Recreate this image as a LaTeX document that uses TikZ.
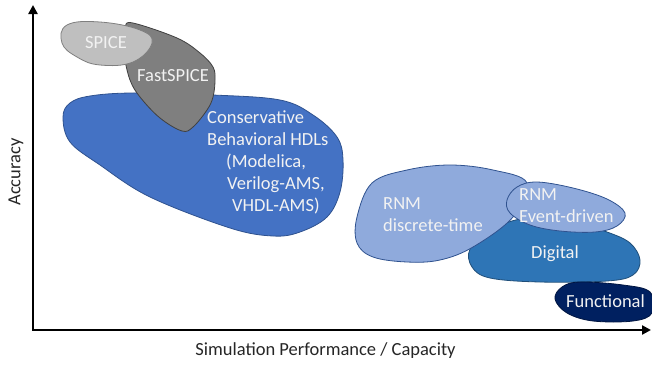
\documentclass[tikz,border=0pt]{standalone}
\usepackage{fontspec}
\setmainfont{Carlito}
\usetikzlibrary{arrows.meta}
\definecolor{spicefill}{HTML}{BFBFBF}
\definecolor{spiceline}{HTML}{7F7F7F}
\definecolor{fastfill}{HTML}{7F7F7F}
\definecolor{fastline}{HTML}{404040}
\definecolor{hdlfill}{HTML}{4472C4}
\definecolor{hdlline}{HTML}{2F528F}
\definecolor{rnmfill}{HTML}{8FAADC}
\definecolor{rnmline}{HTML}{2F528F}
\definecolor{digfill}{HTML}{2E75B6}
\definecolor{digline}{HTML}{1F4E79}
\definecolor{funcfill}{HTML}{002060}
\definecolor{funcline}{HTML}{001540}
\tikzset{
  blob/.style={line width=0.8pt},
  lbl/.style={text=white!95!black, font=\fontsize{18.5}{22}\selectfont, inner sep=0pt},
  axlbl/.style={text=black!85, font=\fontsize{18.5}{22}\selectfont, inner sep=0pt},
  axis/.style={line width=2.6pt, {Triangle[length=9pt,width=9pt]}-{Triangle[length=9pt,width=9pt]}}
}
\begin{document}
\begin{tikzpicture}[x=1pt,y=-1pt]
\useasboundingbox (0,0) rectangle (652,364);

% Conservative behavioral HDLs
\filldraw[blob, fill=hdlfill, draw=hdlline] plot[smooth cycle, tension=0.6] coordinates {
  (63,117) (70,103) (90,96) (133,93) (213,95) (280,100) (313,115) (337,137)
  (343,160) (340,192) (327,217) (300,232) (273,236) (230,228) (150,197)
  (100,165) (70,142)};
% FastSPICE
\filldraw[blob, fill=fastfill, draw=fastline] plot[smooth cycle, tension=0.6] coordinates {
  (125,27) (133,23) (177,38) (200,53) (213,67) (215,80) (213,97) (207,110)
  (193,127) (182,131) (160,118) (140,97) (130,80) (124,55) (123,38)};
% SPICE
\filldraw[blob, fill=spicefill, draw=spiceline] plot[smooth cycle, tension=0.7] coordinates {
  (67,25) (100,22) (140,30) (152,43) (133,62) (100,65) (77,57) (62,43)};
% Digital
\filldraw[blob, fill=digfill, draw=digline] plot[smooth cycle, tension=0.6] coordinates {
  (470,249) (472,267) (490,278) (540,282) (607,281) (633,275) (640,260)
  (630,243) (607,232) (573,222) (527,218) (490,230)};
% Functional
\filldraw[blob, fill=funcfill, draw=funcline] plot[smooth cycle, tension=0.6] coordinates {
  (555,299) (562,287) (580,282) (623,285) (650,292) (652,313) (633,321)
  (593,321) (567,313)};
% RNM discrete-time
\filldraw[blob, fill=rnmfill, draw=rnmline] plot[smooth cycle, tension=0.6] coordinates {
  (357,217) (372,183) (407,170) (450,165) (493,170) (527,183) (513,217)
  (473,247) (440,260) (407,262) (373,257) (357,243)};
% RNM event-driven
\filldraw[blob, fill=rnmfill, draw=rnmline] plot[smooth cycle, tension=0.6] coordinates {
  (507,200) (517,187) (537,182) (573,188) (607,199) (625,213) (617,226)
  (595,232) (560,231) (530,225) (510,213)};

% labels
\node[lbl] (spice) at (106,43) {SPICE};
\node[lbl] (fast) at (173,76) {FastSPICE};
\node[lbl, anchor=base west] (c1) at (207,123) {Conservative};
\node[lbl, anchor=base west] (c2) at (207,145) {Behavioral HDLs};
\node[lbl, anchor=base west] (c3) at (226,167) {(Modelica,};
\node[lbl, anchor=base west] (c4) at (227,189) {Verilog-AMS,};
\node[lbl, anchor=base west] (c5) at (232,211) {VHDL-AMS)};
\node[lbl, anchor=base west] (d1) at (383,209) {RNM};
\node[lbl, anchor=base west] (d2) at (383,231) {discrete-time};
\node[lbl, anchor=base west] (e1) at (519,200) {RNM};
\node[lbl, anchor=base west] (e2) at (519,222) {Event-driven};
\node[lbl, anchor=base west] (dig) at (531,258) {Digital};
\node[lbl, anchor=base west] (func) at (566,307) {Functional};

% axes
\coordinate (top) at (33,5);
\coordinate (origin) at (33,330);
\coordinate (right) at (651,330);
\draw[axis] (top) -- (origin) -- (right);
\node[axlbl, anchor=base] (xl) at (325.5,355) {Simulation Performance / Capacity};
\node[axlbl, rotate=90] (yl) at (16,172) {Accuracy};
\end{tikzpicture}
\end{document}
